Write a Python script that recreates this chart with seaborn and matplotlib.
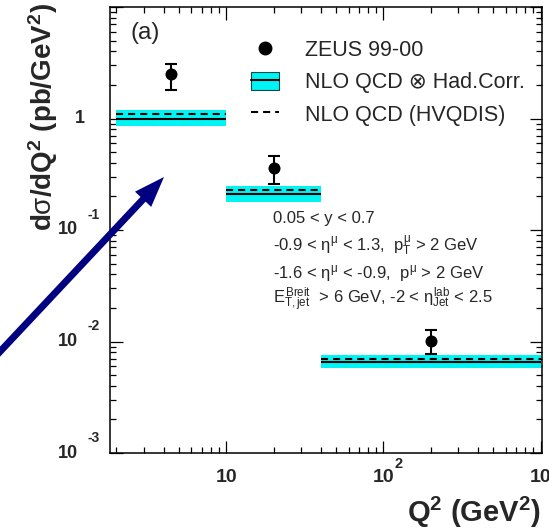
import matplotlib
matplotlib.use("Agg")
import matplotlib.pyplot as plt
import numpy as np
import pandas as pd
import seaborn as sns
from matplotlib.lines import Line2D
from matplotlib.patches import Patch
from matplotlib.ticker import FixedLocator, LogLocator, NullFormatter

# Q^2 bins (GeV^2)
q2_low = [2.0, 10.0, 40.0]
q2_high = [10.0, 40.0, 1000.0]
q2_center = [4.47, 20.0, 200.0]

# ZEUS 99-00 measured cross sections (pb/GeV^2)
zeus_xsec = [2.5, 0.36, 0.0102]
zeus_err_up = [0.6, 0.105, 0.0025]
zeus_err_down = [0.7, 0.10, 0.0025]

# NLO QCD x hadronisation correction and its uncertainty band
nlo_had = [1.0, 0.21, 0.0066]
nlo_band_low = [0.86, 0.18, 0.0058]
nlo_band_high = [1.20, 0.25, 0.0075]

# NLO QCD (HVQDIS)
nlo_hvqdis = [1.09, 0.23, 0.0070]

# axis labelling
x_ticks = [10, 100, 1000]
x_exponents = ["", "2", "3"]
y_ticks = [1e-3, 1e-2, 1e-1, 1.0]
y_exponents = ["-3", "-2", "-1", ""]

cuts = [
    "0.05 < y < 0.7",
    r"-0.9 < $\eta^{\mu}$ < 1.3,  $p_{T}^{\mu}$ > 2 GeV",
    r"-1.6 < $\eta^{\mu}$ < -0.9,  $p^{\mu}$ > 2 GeV",
    r"$E_{T,jet}^{Breit}$  > 6 GeV, -2 < $\eta_{Jet}^{lab}$ < 2.5",
]

sns.set_theme(style="ticks")
plt.rcParams["font.family"] = ["Liberation Sans", "DejaVu Sans"]
plt.rcParams["mathtext.fontset"] = "custom"
plt.rcParams["mathtext.rm"] = "Liberation Sans"
plt.rcParams["mathtext.it"] = "Liberation Sans"
plt.rcParams["mathtext.sf"] = "Liberation Sans"
plt.rcParams["mathtext.bf"] = "Liberation Sans:bold"

CYAN = "#00f4f4"
W, H = 549, 530
fig = plt.figure(figsize=(W / 100, H / 100), dpi=100)
ax = fig.add_axes([110 / W, 77 / H, 432 / W, 446 / H])

df = pd.DataFrame({"q2": q2_center, "xsec": zeus_xsec})

# theory bands and lines
for lo, hi, blo, bhi in zip(q2_low, q2_high, nlo_band_low, nlo_band_high):
    ax.fill_between([lo, hi], [blo, blo], [bhi, bhi], color=CYAN, lw=0, zorder=1)
ax.hlines(nlo_had, q2_low, q2_high, colors="black", lw=1.5, zorder=2)
ax.hlines(nlo_hvqdis, q2_low, q2_high, colors="black", lw=1.5,
          linestyles=(0, (3.4, 2.4)), zorder=2)

# data
ax.errorbar(q2_center, zeus_xsec, yerr=[zeus_err_down, zeus_err_up], fmt="none",
            ecolor="black", elinewidth=1.5, capsize=4.6, capthick=1.5, zorder=3)
sns.scatterplot(data=df, x="q2", y="xsec", ax=ax, color="black", s=75,
                edgecolor="black", linewidth=0, zorder=4, legend=False)

ax.set_xscale("log")
ax.set_yscale("log")
ax.set_xlim(1.82, 1020)
ax.set_ylim(1e-3, 10)
ax.set_xlabel("")
ax.set_ylabel("")

ax.xaxis.set_major_locator(FixedLocator(x_ticks))
ax.xaxis.set_minor_locator(LogLocator(base=10, subs=np.arange(2, 10)))
ax.yaxis.set_major_locator(LogLocator(base=10, numticks=10))
ax.yaxis.set_minor_locator(LogLocator(base=10, subs=np.arange(2, 10), numticks=10))
ax.xaxis.set_minor_formatter(NullFormatter())
ax.yaxis.set_minor_formatter(NullFormatter())
ax.tick_params(which="both", direction="in", top=True, right=True,
               labelbottom=False, labelleft=False, color="black", width=0.9)
ax.tick_params(which="major", length=9)
ax.tick_params(which="minor", length=4.5)
for sp in ax.spines.values():
    sp.set_linewidth(1.1)
    sp.set_color("black")

# tick labels, ROOT style (base and exponent set separately)
for v, e in zip(x_ticks, x_exponents):
    ax.annotate("10", xy=(v, 0), xycoords=("data", "axes fraction"),
                xytext=(0, -25), textcoords="offset pixels", ha="center",
                va="center", fontsize=14, fontweight="bold", annotation_clip=False)
    if e:
        ax.annotate(e, xy=(v, 0), xycoords=("data", "axes fraction"),
                    xytext=(11, -11), textcoords="offset pixels", ha="left",
                    va="center", fontsize=10.5, fontweight="bold",
                    annotation_clip=False)
for v, e in zip(y_ticks, y_exponents):
    if e:
        ax.annotate("10", xy=(0, v), xycoords=("axes fraction", "data"),
                    xytext=(-32, 0), textcoords="offset pixels", ha="right",
                    va="center", fontsize=13, fontweight="bold",
                    annotation_clip=False)
        ax.annotate(e, xy=(0, v), xycoords=("axes fraction", "data"),
                    xytext=(-22, 15), textcoords="offset pixels", ha="left",
                    va="center", fontsize=10, fontweight="bold",
                    annotation_clip=False)
    else:
        ax.annotate("1", xy=(0, v), xycoords=("axes fraction", "data"),
                    xytext=(-25, 0), textcoords="offset pixels", ha="right",
                    va="center", fontsize=13, fontweight="bold",
                    annotation_clip=False)

# axis titles
fig.text(43 / W, 1 - 117 / H, r"d$\sigma$/dQ$^{\mathbf{2}}$ (pb/GeV$^{\mathbf{2}}$)",
         rotation=90, ha="center", va="center", fontsize=20, fontweight="bold")
fig.text(541 / W, 1 - 512 / H, r"Q$^{\mathbf{2}}$ (GeV$^{\mathbf{2}}$)",
         ha="right", va="center", fontsize=21, fontweight="bold")

# panel tag
fig.text(131 / W, 1 - 33 / H, "(a)", ha="left", va="center", fontsize=17.5)

# legend
handles = [
    Line2D([], [], marker="o", color="black", linestyle="none", markersize=9),
    (Patch(facecolor=CYAN, edgecolor="#0b4a4a", linewidth=0.8),
     Line2D([], [], color="black", lw=1.5)),
    Line2D([], [], color="black", lw=1.5, linestyle=(0, (3.4, 2.4))),
]
labels = ["ZEUS 99-00", "NLO QCD \u2297 Had.Corr.", "NLO QCD (HVQDIS)"]
fig.legend(handles, labels, loc="upper left", bbox_to_anchor=(251 / W, 1 - 40 / H),
           frameon=False, fontsize=15.5, handlelength=1.3, handleheight=0.9,
           handletextpad=1.2, labelspacing=0.5, borderpad=0, borderaxespad=0)

# selection cuts
for i, t in enumerate(cuts):
    fig.text(273 / W, 1 - (219 + 27 * i) / H, t, ha="left", va="center", fontsize=12)

# pointer arrow
ax.annotate("", xy=(164, H - 177), xycoords="figure pixels",
            xytext=(-6, H - 358), textcoords="figure pixels",
            arrowprops=dict(arrowstyle="simple,head_length=1.1,head_width=0.8,tail_width=0.25",
                            mutation_scale=20, fc="#000080", ec="none",
                            shrinkA=0, shrinkB=0),
            annotation_clip=False)

fig.savefig("out.png", dpi=100)
